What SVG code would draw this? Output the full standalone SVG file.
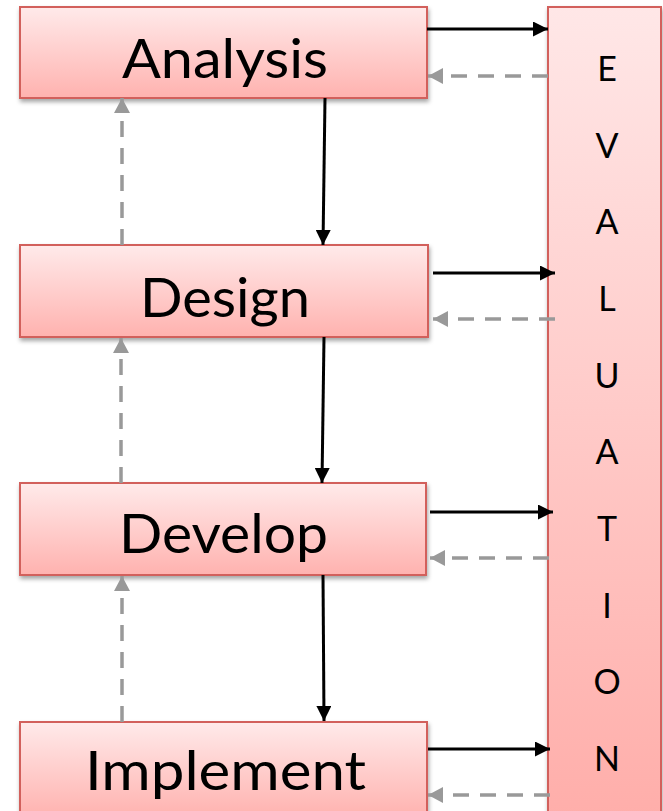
<svg xmlns="http://www.w3.org/2000/svg" width="663" height="811" viewBox="0 0 663 811">
  <style>
    .box { stroke: #D2615B; stroke-width: 2; filter: url(#shadow); }
    .lbl { font-family: Lato, "Liberation Sans", Arial, sans-serif; font-size: 54px; fill: #000; }
    .ev { font-family: Lato, "Liberation Sans", Arial, sans-serif; font-size: 34px; fill: #000; text-anchor: middle; }
    .solid { stroke: #000; stroke-width: 3; fill: none; marker-end: url(#ahBlack); }
    .dash { stroke: #999; stroke-width: 3.5; fill: none; stroke-dasharray: 16 11; marker-end: url(#ahGrey); }
  </style>
  <defs>
    <linearGradient id="gBox" x1="0" y1="0" x2="0" y2="1">
      <stop offset="0" stop-color="#FFEAEA"/>
      <stop offset="1" stop-color="#FFB2AF"/>
    </linearGradient>
    <linearGradient id="gEval" x1="0" y1="0" x2="0" y2="1">
      <stop offset="0" stop-color="#FFE7E7"/>
      <stop offset="1" stop-color="#FFAEAA"/>
    </linearGradient>
    <filter id="shadow" x="-10%" y="-10%" width="120%" height="130%">
      <feDropShadow dx="1" dy="3" stdDeviation="2" flood-color="#000" flood-opacity="0.35"/>
    </filter>
    <marker id="ahBlack" viewBox="0 0 15 15" refX="15" refY="7.5" markerWidth="15" markerHeight="15" markerUnits="userSpaceOnUse" orient="auto">
      <path d="M0,0 L15,7.5 L0,15 Z" fill="#000"/>
    </marker>
    <marker id="ahGrey" viewBox="0 0 15 16" refX="15" refY="8" markerWidth="15" markerHeight="16" markerUnits="userSpaceOnUse" orient="auto">
      <path d="M0,0 L15,8 L0,16 Z" fill="#999"/>
    </marker>
  </defs>

  <g id="evaluation">
    <rect class="box" x="548" y="7" width="113" height="810" fill="url(#gEval)"/>
    <text class="ev" x="607" y="81">E</text>
    <text class="ev" x="607" y="158">V</text>
    <text class="ev" x="607" y="234">A</text>
    <text class="ev" x="607" y="311">L</text>
    <text class="ev" x="607" y="388">U</text>
    <text class="ev" x="607" y="464">A</text>
    <text class="ev" x="607" y="541">T</text>
    <text class="ev" x="607" y="618">I</text>
    <text class="ev" x="607" y="694">O</text>
    <text class="ev" x="607" y="771">N</text>
  </g>

  <g id="analysis">
    <rect class="box" x="20" y="7" width="407" height="91" fill="url(#gBox)"/>
    <text class="lbl" x="122" y="78" textLength="206" lengthAdjust="spacingAndGlyphs">Analysis</text>
  </g>

  <g id="design">
    <rect class="box" x="20" y="245" width="408" height="92" fill="url(#gBox)"/>
    <text class="lbl" x="140" y="317" textLength="170" lengthAdjust="spacingAndGlyphs">Design</text>
  </g>

  <g id="develop">
    <rect class="box" x="20" y="483" width="406" height="92" fill="url(#gBox)"/>
    <text class="lbl" x="119" y="553" textLength="209" lengthAdjust="spacingAndGlyphs">Develop</text>
  </g>

  <g id="implement">
    <rect class="box" x="20" y="722" width="407" height="95" fill="url(#gBox)"/>
    <text class="lbl" x="85" y="790" textLength="281" lengthAdjust="spacingAndGlyphs">Implement</text>
  </g>

  <g id="connectors">
    <line class="solid" x1="427" y1="29" x2="548" y2="29"/>
    <line class="dash" x1="548" y1="76" x2="428" y2="76"/>
    <line class="solid" x1="433" y1="273" x2="555" y2="273"/>
    <line class="dash" x1="555" y1="319" x2="433" y2="319"/>
    <line class="solid" x1="430" y1="512" x2="553" y2="512"/>
    <line class="dash" x1="549" y1="558" x2="430" y2="558"/>
    <line class="solid" x1="428" y1="749" x2="550" y2="749"/>
    <line class="dash" x1="550" y1="795" x2="428" y2="795"/>

    <line class="solid" x1="325" y1="98" x2="323" y2="245"/>
    <line class="solid" x1="324" y1="337" x2="322" y2="483"/>
    <line class="solid" x1="323" y1="575" x2="324" y2="721"/>

    <line class="dash" x1="122" y1="245" x2="122" y2="98"/>
    <line class="dash" x1="121" y1="483" x2="121" y2="338"/>
    <line class="dash" x1="122" y1="722" x2="122" y2="576"/>
  </g>
</svg>
